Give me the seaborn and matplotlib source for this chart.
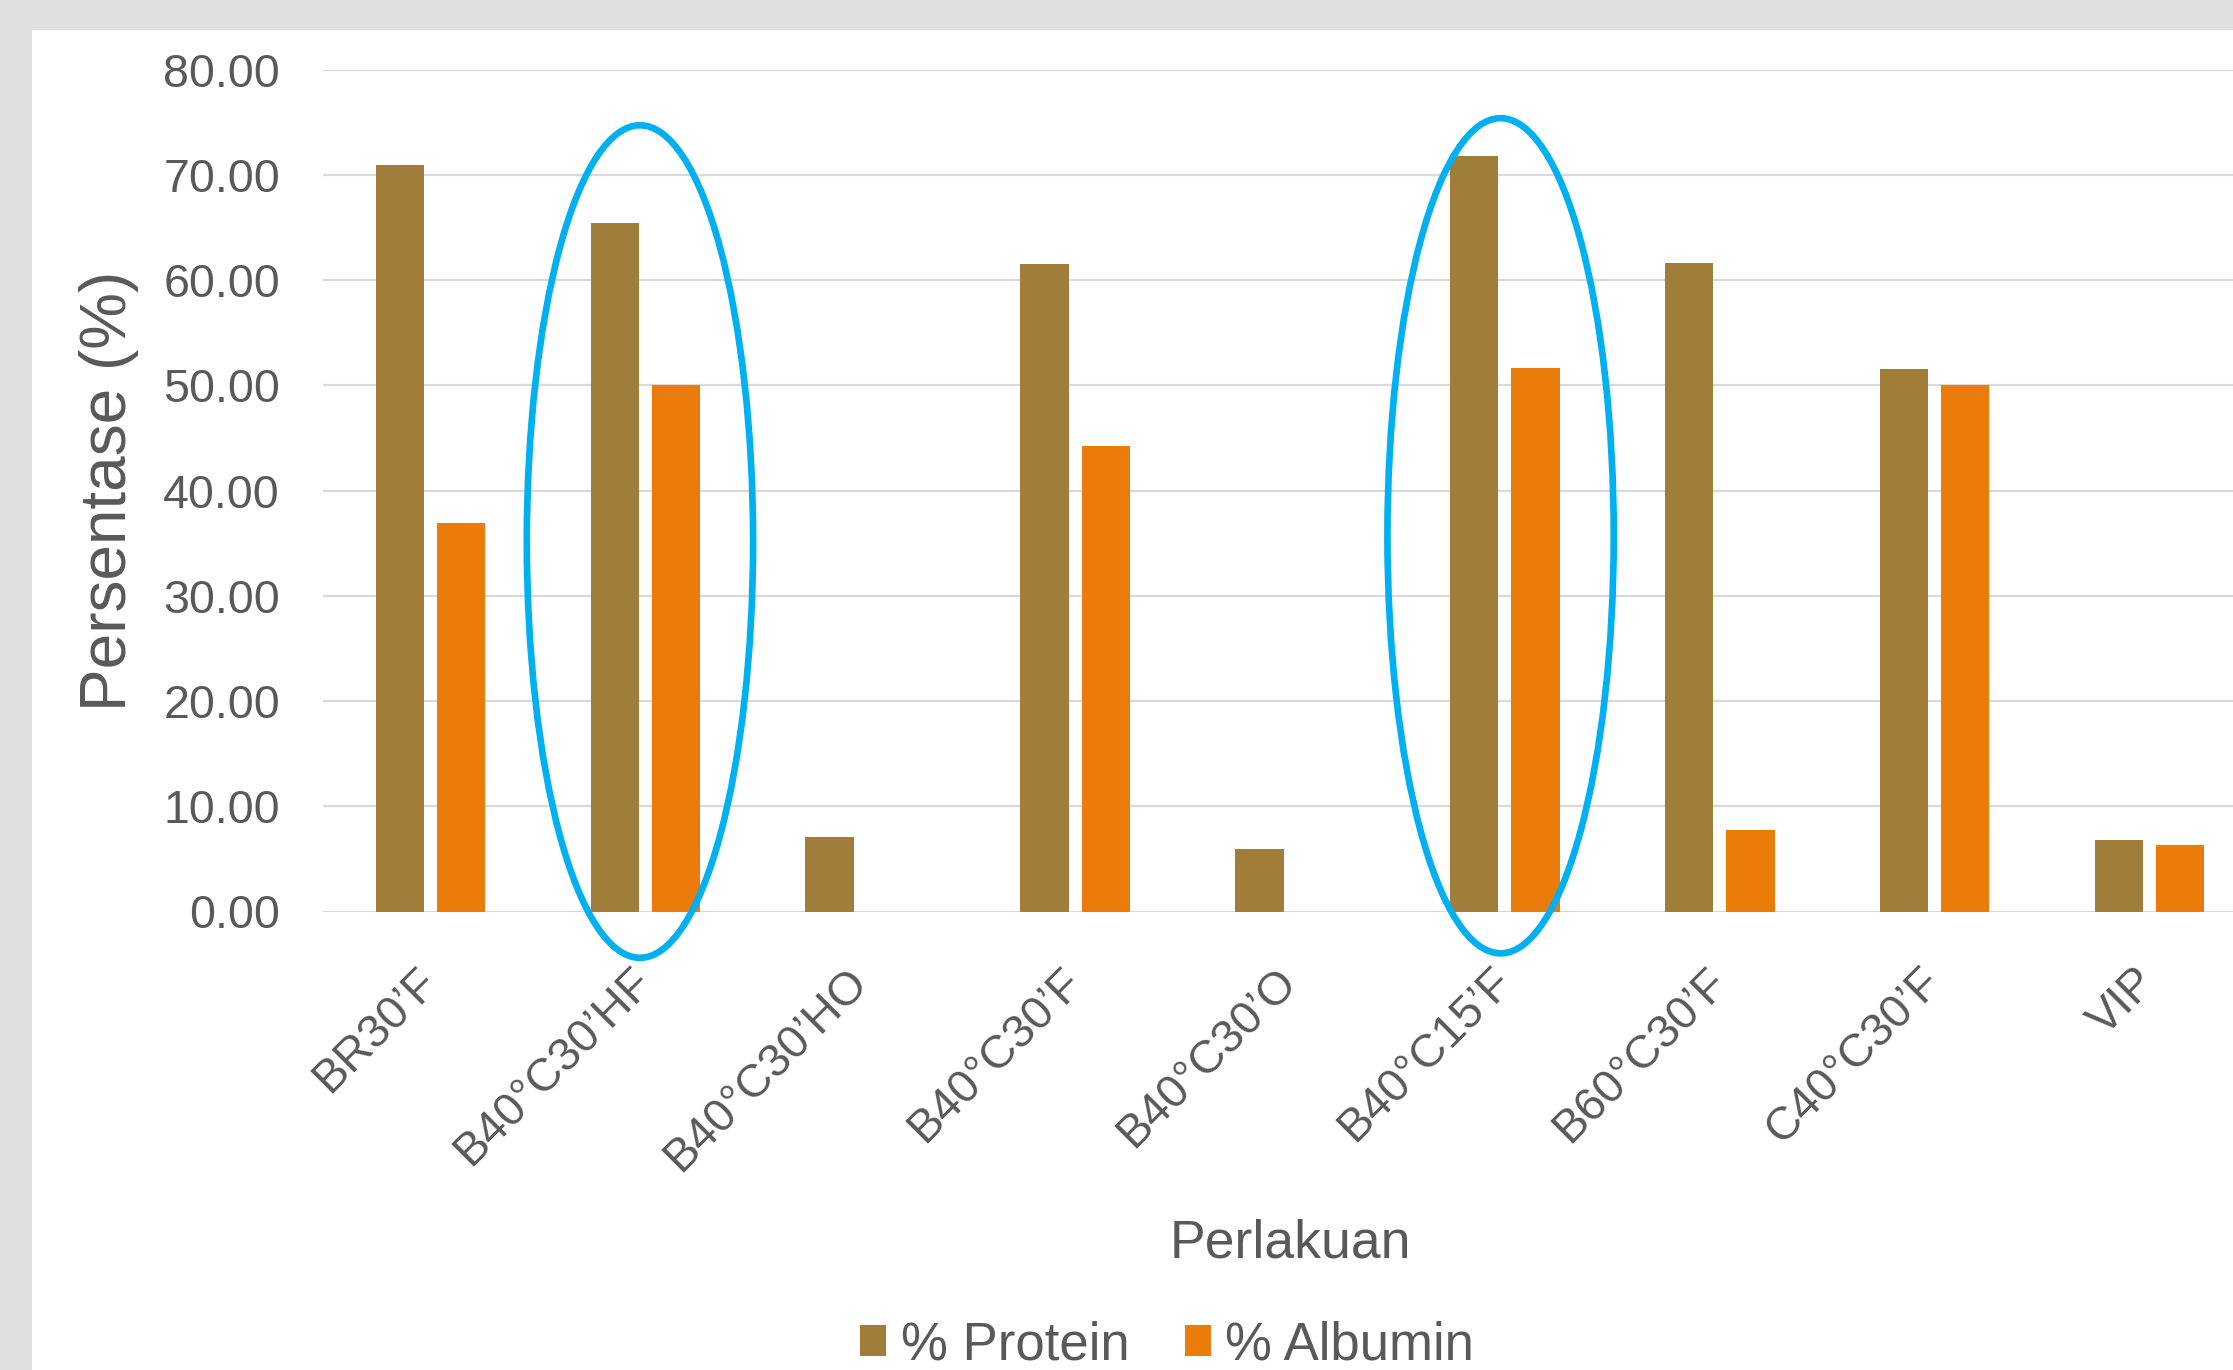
import numpy as np
import pandas as pd
import matplotlib
matplotlib.use("Agg")
import matplotlib.pyplot as plt
from matplotlib.patches import Ellipse, Rectangle
import seaborn as sns

# Treatment groups and measured percentages
categories = ["BR30’F", "B40°C30’HF", "B40°C30’HO", "B40°C30’F", "B40°C30’O",
              "B40°C15’F", "B60°C30’F", "C40°C30’F", "VIP"]
protein = [70.9, 65.4, 7.1, 61.5, 5.9, 71.8, 61.6, 51.5, 6.8]
albumin = [36.9, 50.0, 0.0, 44.2, 0.0, 51.6, 7.7, 50.0, 6.3]
series_names = ["% Protein", "% Albumin"]
y_ticks = [0, 10, 20, 30, 40, 50, 60, 70, 80]
# Treatments circled as the best results
highlighted = ["B40°C30’HF", "B40°C15’F"]

sns.set_style("white")
plt.rcParams["font.family"] = ["Liberation Sans", "DejaVu Sans"]

TEXT = "#595959"
COLORS = {"% Protein": "#A07E3A", "% Albumin": "#EB7B0A"}

df = pd.DataFrame({
    "Perlakuan": categories * 2,
    "Nilai": protein + albumin,
    "Seri": [series_names[0]] * len(categories) + [series_names[1]] * len(categories),
})

W, H = 2233, 1370
fig = plt.figure(figsize=(W / 100, H / 100), dpi=100)
fig.patch.set_facecolor("#E0E0E0")
fig.add_artist(Rectangle((32 / W, 0), 1, (H - 30) / H, transform=fig.transFigure,
                         facecolor="white", edgecolor="none", zorder=0))

ax = fig.add_axes([323 / W, 458.5 / H, 1934 / W, 842 / H])
ax.set_facecolor("none")

sns.barplot(data=df, x="Perlakuan", y="Nilai", hue="Seri", order=categories,
            hue_order=series_names, palette=COLORS, saturation=1,
            width=0.5695, gap=0.209, linewidth=0, errorbar=None, ax=ax, zorder=3)

ax.set_xlim(-0.5, len(categories) - 0.5)
ax.set_ylim(0, 80)
ax.set_yticks(y_ticks)
ax.set_yticklabels([f"{v:.2f}" for v in y_ticks])
ax.yaxis.grid(True, color="#D9D9D9", linewidth=1.6, zorder=0)
ax.set_axisbelow(True)
for s in ax.spines.values():
    s.set_visible(False)

ax.tick_params(axis="y", length=0, pad=31, labelsize=33.5, labelcolor=TEXT)
ax.tick_params(axis="x", length=0, pad=46, labelsize=33.5, labelcolor=TEXT)
for lbl in ax.get_xticklabels():
    lbl.set_rotation(45)
    lbl.set_ha("right")
    lbl.set_va("center")
    lbl.set_rotation_mode("anchor")

ax.set_ylabel("Persentase (%)", fontsize=46, color=TEXT, va="center")
ax.yaxis.set_label_coords((109 - 323) / 1934, 0.5)
ax.set_xlabel("Perlakuan", fontsize=38.5, color=TEXT, va="center")
ax.xaxis.set_label_coords(0.5, (912 - 1244) / 842)

# Blue outlines around the highlighted treatments
for name, dx, yc, h in [(highlighted[0], -0.025, 35.15, 79.1),
                        (highlighted[1], -0.02, 35.7, 79.35)]:
    xc = categories.index(name) + dx
    ax.add_patch(Ellipse((xc, yc), width=1.053, height=h, fill=False,
                         edgecolor="#00B0F0", linewidth=4.8, clip_on=False, zorder=5))

handles, labels = ax.get_legend_handles_labels()
if ax.legend_ is not None:
    ax.legend_.remove()
fig.legend(handles, labels, loc="center", bbox_to_anchor=(1167 / W, 1 - 1345 / H),
           ncol=2, frameon=False, fontsize=38, labelcolor=TEXT,
           handlelength=0.5, handleheight=0.52, handletextpad=0.27,
           columnspacing=1.05, borderpad=0, borderaxespad=0)

fig.savefig("out.png", dpi=100)
